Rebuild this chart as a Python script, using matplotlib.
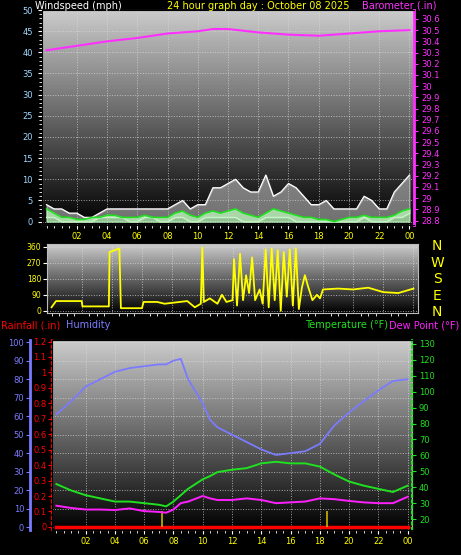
import numpy as np
import matplotlib.pyplot as plt

W, H = 461, 555
# ---- data ----
hours_half = np.arange(0, 24.5, 0.5)
wind_gust = [4, 3, 3, 2, 2, 1, 1, 2, 3, 3, 3, 3, 3, 3, 3, 3,
             3, 4, 5, 3, 4, 4, 8, 8, 9, 10, 8, 7, 7, 11, 6, 7,
             9, 8, 6, 4, 4, 5, 3, 3, 3, 3, 6, 5, 3, 3, 7, 9, 11]
wind_avg = [3, 2, 1, 1, 0.5, 0.5, 1, 1, 1.5, 1.5, 1, 1, 1, 1.5, 1, 1,
            1, 2, 2.5, 1.5, 1, 2, 2.5, 2, 2.5, 3, 2, 1.5, 1, 2, 3, 2.5,
            2, 1.5, 1, 1, 0.5, 0.5, 0, 0.5, 1, 1, 1.5, 1, 1, 1, 1.5, 2.5, 3]
wind_lull = [1, 1, 0, 0, 0, 0, 0, 1, 1, 1, 1, 0, 0, 1, 1, 0,
             0, 1, 1, 0, 0, 1, 1, 1, 1, 1, 0, 0, 0, 1, 1, 1,
             1, 0, 0, 0, 0, 0, 0, 0, 0, 0, 1, 0, 0, 0, 1, 1, 2]

baro_hours = [0, 2, 4, 6, 8, 10, 11, 12, 14, 16, 18, 20, 22, 24]
baro = [30.32, 30.36, 30.40, 30.43, 30.47, 30.49, 30.51, 30.51, 30.48,
        30.46, 30.45, 30.47, 30.49, 30.50]

dir_hours = [0, 0.3, 2.0, 2.05, 3.8, 3.85, 4.5, 4.6, 6.0, 6.1, 7.0, 7.5, 9.0,
             9.5, 9.9, 10.0, 10.1, 10.5, 11.0, 11.3, 11.6, 12.0, 12.1, 12.3,
             12.5, 12.7, 12.9, 13.1, 13.3, 13.5, 13.8, 14.0, 14.2, 14.4, 14.6,
             14.8, 15.0, 15.2, 15.4, 15.6, 15.8, 16.0, 16.2, 16.4, 16.6, 16.8,
             17.0, 17.3, 17.6, 17.8, 18.0, 19.0, 20.0, 21.0, 22.0, 23.0, 24.0]
wind_dir = [20, 55, 55, 25, 25, 330, 350, 15, 15, 50, 50, 40, 55,
            20, 40, 355, 50, 70, 40, 90, 50, 60, 290, 30, 320, 60, 200, 100,
            300, 60, 120, 40, 345, 20, 350, 60, 340, 0, 330, 80, 345, 30,
            350, 10, 130, 200, 140, 60, 90, 70, 120, 125, 120, 130, 105, 100, 125]

th_hours = [0, 1, 2, 3, 4, 5, 6, 7, 7.5, 8, 8.5, 9, 10, 10.5, 11, 12, 13,
            14, 15, 16, 17, 18, 19, 20, 21, 22, 23, 24]
humidity = [61, 68, 76, 80, 84, 86, 87, 88, 88, 90, 91, 80, 67, 58, 54, 50,
            46, 42, 39, 40, 41, 45, 55, 62, 68, 74, 79, 80]
temperature = [42, 38, 35, 33, 31, 31, 30, 29, 28, 31, 35, 39, 45, 47, 49.5,
               51, 52, 55, 56, 55, 55, 53, 48, 43.6, 41, 39, 37, 41]
dewpoint = [28.4, 27, 26, 26, 25.7, 26.7, 25, 24.5, 24, 26, 30, 31, 34.5,
            33, 32, 32, 33, 32, 30, 30.5, 31, 33, 32.5, 31.4, 30.5, 30, 30, 34]
rain_hours = [0, 24]
rain = [0, 0]
mark_hours = [7.2, 18.5]

tick_pos = list(range(2, 25, 2))
tick_lab = ['02', '04', '06', '08', '10', '12', '14', '16', '18', '20', '22', '00']

fig = plt.figure(figsize=(W / 100, H / 100), dpi=100, facecolor='black')


def panel(l, t, r, b):
    return fig.add_axes([l / W, 1 - b / H, (r - l) / W, (b - t) / H])


def backdrop(ax):
    grad = np.linspace(0.8, 0.0, 256).reshape(-1, 1)
    ax.imshow(grad, cmap='gray', vmin=0, vmax=1, aspect='auto',
              extent=[0, 1, 0, 1], transform=ax.transAxes, zorder=0)
    ax.set_facecolor('black')
    for s in ax.spines.values():
        s.set_color('#bbbbbb')
    ax.grid(True, color='#dddddd', ls=':', lw=0.7, alpha=0.7)


def style_x(ax, labels=True):
    ax.set_xlim(-0.3, 24.3)
    ax.set_xticks(tick_pos)
    ax.set_xticks(np.arange(0, 24.5, 0.5), minor=True)
    if labels:
        ax.set_xticklabels(tick_lab)
    else:
        ax.set_xticklabels([])
    ax.tick_params(axis='x', colors='white', labelcolor='yellow', labelsize=6,
                   length=3, pad=2)
    ax.tick_params(axis='x', which='minor', colors='white', length=2)


# ---- top: wind + barometer ----
ax1 = panel(42, 10, 414, 225)
backdrop(ax1)
ax1.fill_between(hours_half, wind_lull, wind_gust, color='#cccccc', alpha=0.55, zorder=2)
ax1.plot(hours_half, wind_gust, color='white', lw=0.9, zorder=3)
ax1.plot(hours_half, wind_lull, color='white', lw=0.9, zorder=3)
ax1.fill_between(hours_half, 0, wind_avg, color='#b8f0b8', alpha=0.8, zorder=3)
ax1.plot(hours_half, wind_avg, color='#20e020', lw=1.2, zorder=4)
ax1.set_ylim(-0.8, 50)
ax1.set_yticks(range(0, 51, 5))
ax1.set_yticks(range(0, 51, 1), minor=True)
ax1.tick_params(axis='y', colors='white', labelcolor='#9fd8ff', labelsize=6, length=3)
ax1.tick_params(axis='y', which='minor', colors='white', length=2)
style_x(ax1)
ax1b = ax1.twinx()
ax1b.plot(baro_hours, baro, color='#ff30ff', lw=1.5)
ax1b.set_ylim(28.76, 30.68)
ax1b.set_yticks(np.round(np.arange(28.8, 30.61, 0.1), 1))
ax1b.set_yticklabels([('%.1f' % v).rstrip('0').rstrip('.') for v in np.arange(28.8, 30.61, 0.1)])
ax1b.tick_params(axis='y', colors='#ff30ff', labelsize=6, length=3, pad=2)
ax1b.spines['right'].set_color('#ff30ff')
ax1b.spines['right'].set_linewidth(2)

# ---- middle: wind direction ----
ax2 = panel(47, 244, 418, 313)
backdrop(ax2)
ax2.plot(dir_hours, wind_dir, color='yellow', lw=1.3, zorder=3)
ax2.set_ylim(-12, 375)
ax2.set_yticks([0, 90, 180, 270, 360])
ax2.tick_params(axis='y', colors='white', labelcolor='yellow', labelsize=5.5, length=3, pad=1)
style_x(ax2, labels=False)
ax2.tick_params(axis='x', length=0)
for i, c in enumerate('NWSEN'):
    fig.text(437 / W, 1 - (246 + i * 16.5) / H, c, color='yellow', fontsize=10,
             ha='center', va='center')

# ---- bottom: humidity, rain, temp, dew ----
ax3 = panel(52, 340, 412, 530)
backdrop(ax3)
ax3.plot(th_hours, humidity, color='#7b7bff', lw=1.3, zorder=3)
ax3.set_ylim(-1.6, 101.2)
ax3.set_yticks(range(0, 101, 10))
ax3.spines['left'].set_position(('outward', 16))
ax3.spines['left'].set_color('#7b7bff')
ax3.spines['left'].set_linewidth(2)
ax3.tick_params(axis='y', colors='#7b7bff', labelsize=6, length=3, pad=1)
style_x(ax3)

ax3r = ax3.twinx()
ax3r.plot(rain_hours, rain, color='red', lw=2.5)
ax3r.vlines(mark_hours, 0, 0.1, color='#c8b400', lw=1.2)
ax3r.set_ylim(-0.02, 1.21)
ax3r.set_yticks(np.round(np.arange(0, 1.21, 0.1), 1))
ax3r.set_yticklabels(['0'] + ['%g' % round(v, 1) for v in np.arange(0.1, 1.21, 0.1)])
ax3r.yaxis.tick_left()
ax3r.spines['left'].set_visible(True)
ax3r.spines['left'].set_color('red')
ax3r.spines['left'].set_linestyle(':')
ax3r.spines['left'].set_linewidth(1.5)
ax3r.spines['right'].set_visible(False)
ax3r.tick_params(axis='y', colors='red', labelsize=6, length=3, pad=1)

ax3t = ax3.twinx()
ax3t.plot(th_hours, temperature, color='#20e020', lw=1.4)
ax3t.plot(th_hours, dewpoint, color='#ff20ff', lw=1.4)
ax3t.set_ylim(15 - 1.6 * 1.161, 15 + 101.2 * 1.161)
ax3t.set_yticks(range(20, 131, 10))
ax3t.spines['right'].set_color('#20e020')
ax3t.spines['right'].set_linestyle(':')
ax3t.spines['right'].set_linewidth(1.5)
ax3t.tick_params(axis='y', colors='#20e020', labelsize=6, length=3, pad=2)

# ---- headers ----
fs = 7
fig.text(35 / W, 1 - 1 / H, 'Windspeed (mph)', color='white', fontsize=fs, va='top')
fig.text(258 / W, 1 - 1 / H, '24 hour graph day : October 08 2025', color='yellow',
         fontsize=fs, va='top', ha='center')
fig.text(436 / W, 1 - 1 / H, 'Barometer (.in)', color='#ff30ff', fontsize=fs, va='top', ha='right')
fig.text(1 / W, 1 - 320 / H, 'Rainfall (.in)', color='red', fontsize=fs, va='top')
fig.text(66 / W, 1 - 320 / H, 'Humidity', color='#7b7bff', fontsize=fs, va='top')
fig.text(388 / W, 1 - 320 / H, 'Temperature (°F)', color='#20e020', fontsize=fs, va='top', ha='right')
fig.text(459 / W, 1 - 320 / H, 'Dew Point (°F)', color='#ff20ff', fontsize=fs, va='top', ha='right')

fig.savefig('out.png', dpi=100, facecolor='black')
